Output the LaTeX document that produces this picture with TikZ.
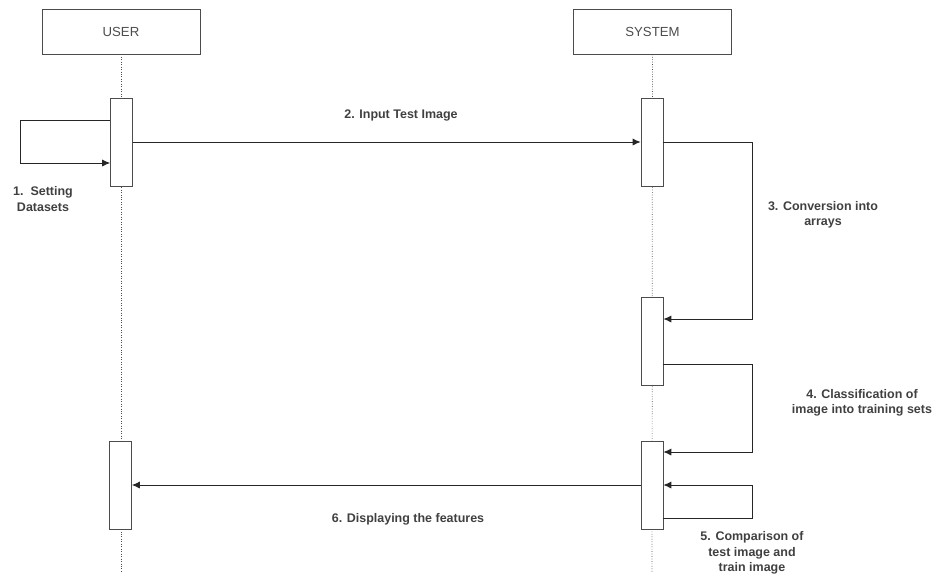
\documentclass[tikz,border=0pt]{standalone}
\usepackage{fontspec}
\setmainfont{Liberation Sans}
\usetikzlibrary{positioning,arrows.meta}
\tikzset{
  actor/.style={draw=black!70, minimum width=3.16cm, minimum height=0.9cm,
    font=\fontsize{7.5}{9}\selectfont, text=black!70},
  activation/.style={draw=black!70, fill=white, minimum width=0.44cm, minimum height=1.76cm},
  lifeline/.style={densely dotted, black!70},
  msg/.style={draw=black!85, line width=0.5pt, -{Latex[length=4.5pt,width=4pt]}},
  msglabel/.style={font=\bfseries\fontsize{7.1}{8.8}\selectfont, text=black!75, align=center}
}
\begin{document}
\begin{tikzpicture}[x=0.02cm,y=-0.02cm]
            \useasboundingbox (0,0) rectangle (938,576);
            \node[actor] (user) at (121,31.5) {USER};
            \node[actor] (system) at (652.5,31.5) {SYSTEM};
            \coordinate (userend) at (121,572);
            \coordinate (sysend) at (652,572);
            \draw[lifeline] (user) -- (userend);
            \draw[lifeline] (system) -- (sysend);
            % activation bars
            \node[activation] (ua) at (121.5,142) {};
            \node[activation] (ub) at (120.5,485) {};
            \node[activation] (sa) at (652,142) {};
            \node[activation] (sb) at (652,341.5) {};
            \node[activation] (sc) at (652,485) {};
            % messages
            \coordinate (l1a) at (20,120);
            \coordinate (l1b) at (20,163);
            \draw[msg] (ua.west |- l1a) -- (l1a) -- (l1b) -- (ua.west |- l1b);
            \draw[msg] (ua.east) -- (sa.west);
            \coordinate (r3a) at (752,142);
            \coordinate (r3b) at (752,319);
            \draw[msg] (sa.east) -- (r3a) -- (r3b) -- (sb.east |- r3b);
            \coordinate (r4a) at (752,364);
            \coordinate (r4b) at (752,452);
            \draw[msg] (sb.east |- r4a) -- (r4a) -- (r4b) -- (sc.east |- r4b);
            \coordinate (r5a) at (752,518);
            \coordinate (r5b) at (752,485);
            \draw[msg] (sc.east |- r5a) -- (r5a) -- (r5b) -- (sc.east);
            \draw[msg] (sc.west) -- (ub.east);
            % labels
            \node[msglabel] (m1) at (43,199) {1.\ \ Setting\\Datasets};
            \node[msglabel] (m2) at (401,115) {2. Input Test Image};
            \node[msglabel] (m3) at (823,215) {3. Conversion into\\arrays};
            \node[msglabel] (m4) at (862,403) {4. Classification of\\image into training sets};
            \node[msglabel] (m5) at (752,553) {5. Comparison of\\test image and\\train image};
            \node[msglabel] (m6) at (408,519) {6. Displaying the features};
        \end{tikzpicture}
\end{document}
